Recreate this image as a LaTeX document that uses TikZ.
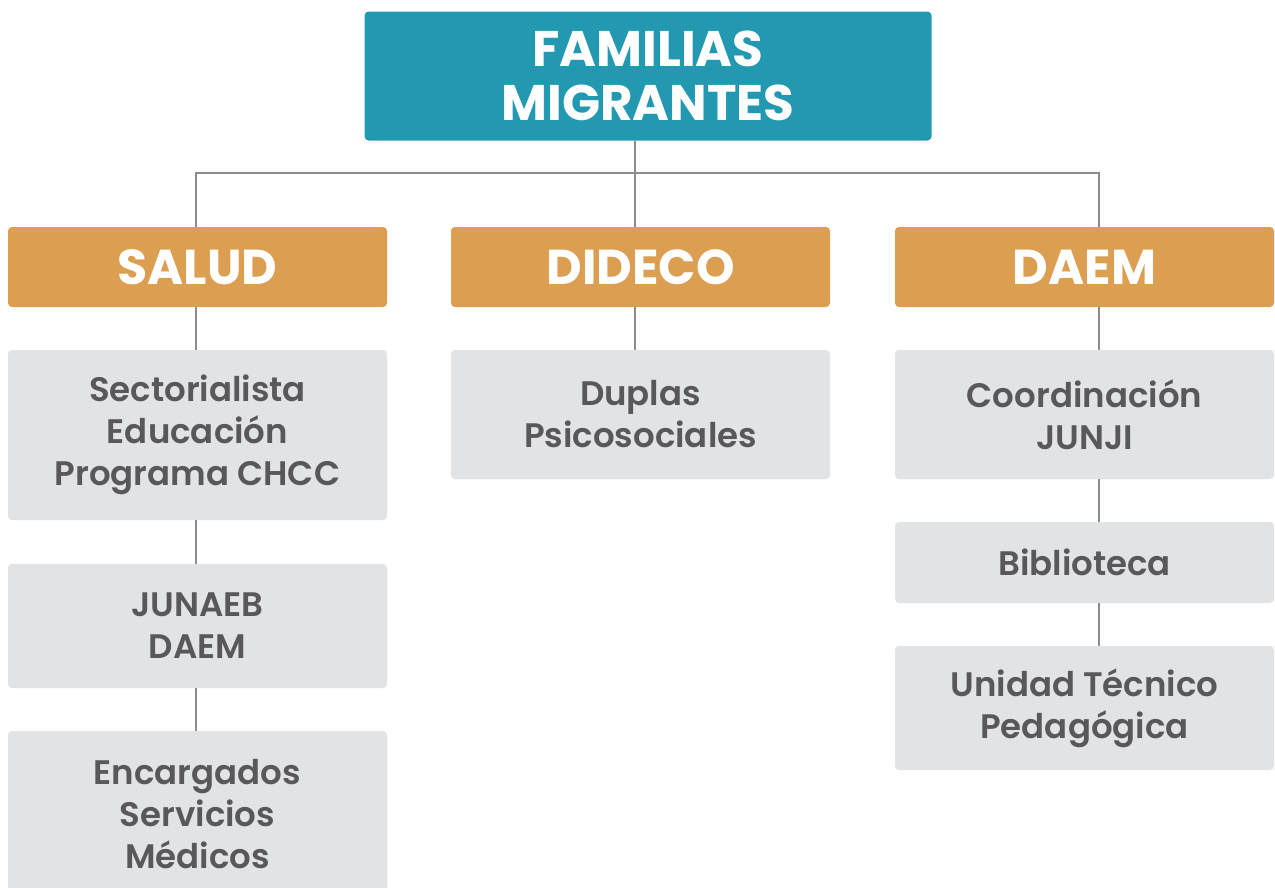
\documentclass[tikz,border=0pt]{standalone}
\usepackage{fontspec}
\setmainfont{Poppins}
\newfontfamily\medio{Poppins}[UprightFont=* SemiBold]
\usetikzlibrary{positioning}
\definecolor{teal}{HTML}{2299B0}
\definecolor{naranja}{HTML}{DC9E51}
\definecolor{gris}{HTML}{E2E3E5}
\definecolor{texto}{HTML}{58585A}
\definecolor{linea}{HTML}{8C8C8E}

\begin{document}
\begin{tikzpicture}[x=1pt,y=-1pt,
  raiz/.style={fill=teal,rounded corners=4pt,text=white,font=\fontsize{50}{54}\selectfont\bfseries,align=center,minimum width=567pt,minimum height=129pt},
  area/.style={fill=naranja,rounded corners=4pt,text=white,font=\fontsize{49}{50}\selectfont\bfseries,minimum width=379pt,minimum height=80pt},
  unidad/.style={fill=gris,rounded corners=4pt,text=texto,font=\fontsize{34}{42}\medio,align=center,minimum width=379pt},
  link/.style={draw=linea,line width=1.5pt}]
  \useasboundingbox[fill=white] (0,0) rectangle (1275,887);

  \node[raiz] (fam) at (648,76) {FAMILIAS\\MIGRANTES};

  \node[area] (salud) at (197.5,267) {SALUD};
  \node[area] (dideco) at (640.5,267) {DIDECO};
  \node[area] (daem) at (1084.5,267) {DAEM};

  \node[unidad,minimum height=170pt] (s1) at (197.5,435) {Sectorialista\\Educación\\Programa CHCC};
  \node[unidad,minimum height=124pt] (s2) at (197.5,626) {JUNAEB\\DAEM};
  \node[unidad,minimum height=166pt] (s3) at (197.5,814) {Encargados\\Servicios\\Médicos};

  \node[unidad,minimum height=129pt] (d1) at (640.5,414.5) {Duplas\\Psicosociales};

  \node[unidad,minimum height=129pt] (e1) at (1084.5,414.5) {Coordinación\\JUNJI};
  \node[unidad,minimum height=81pt] (e2) at (1084.5,562.5) {Biblioteca};
  \node[unidad,minimum height=124pt] (e3) at (1084.5,708) {Unidad Técnico\\Pedagógica};

  % columnas de las lineas
  \coordinate (cs) at (196,173);
  \coordinate (cd) at (635,173);
  \coordinate (ce) at (1099,173);

  \draw[link] (fam.south -| cd) -- (cd);
  \draw[link] (salud.north -| cs) -- (cs) -- (ce) -- (daem.north -| ce);
  \draw[link] (cd) -- (dideco.north -| cd);

  \draw[link] (salud.south -| cs) -- (s1.north -| cs);
  \draw[link] (s1.south -| cs) -- (s2.north -| cs);
  \draw[link] (s2.south -| cs) -- (s3.north -| cs);
  \draw[link] (dideco.south -| cd) -- (d1.north -| cd);
  \draw[link] (daem.south -| ce) -- (e1.north -| ce);
  \draw[link] (e1.south -| ce) -- (e2.north -| ce);
  \draw[link] (e2.south -| ce) -- (e3.north -| ce);
\end{tikzpicture}
\end{document}
